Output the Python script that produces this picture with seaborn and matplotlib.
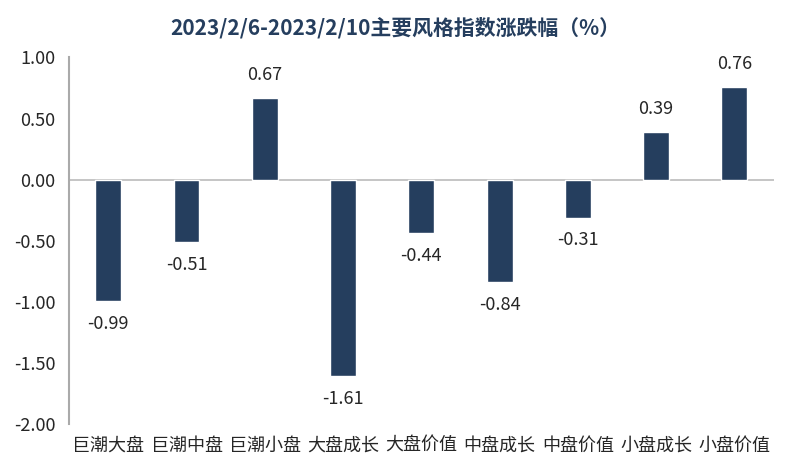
import matplotlib
matplotlib.use("Agg")
import matplotlib.pyplot as plt
import seaborn as sns
import pandas as pd

categories = ["巨潮大盘", "巨潮中盘", "巨潮小盘", "大盘成长", "大盘价值", "中盘成长", "中盘价值", "小盘成长", "小盘价值"]
values = [-0.99, -0.51, 0.67, -1.61, -0.44, -0.84, -0.31, 0.39, 0.76]
yticks = [-2.0, -1.5, -1.0, -0.5, 0.0, 0.5, 1.0]
title = "2023/2/6-2023/2/10主要风格指数涨跌幅（%）"

sns.set_theme(style="white")
plt.rcParams['font.family'] = ['Noto Sans CJK SC', 'DejaVu Sans']

df = pd.DataFrame({"cat": categories, "val": values})

fig = plt.figure(figsize=(7.95, 4.67), dpi=100)
ax = fig.add_axes([0.087, 0.092, 0.886, 0.785])
sns.barplot(data=df, x="cat", y="val", color="#253E5E", saturation=1, width=0.33, ax=ax)

ax.set_ylim(-2.0, 1.0)
ax.set_xlim(-0.5, len(categories) - 0.5)
ax.set_yticks(yticks)
ax.set_yticklabels([f"{t:.2f}" for t in yticks], fontsize=13)
ax.set_xlabel("")
ax.set_ylabel("")
ax.tick_params(axis='x', labelsize=13, length=0, pad=9)
ax.tick_params(axis='y', length=0, pad=10)
for s in ["top", "right", "bottom"]:
    ax.spines[s].set_visible(False)
ax.spines["left"].set_color("#AAAAAA")
ax.spines["left"].set_linewidth(1.5)
ax.axhline(0, color="#BBBBBB", linewidth=1.2, zorder=0.5)

for i, v in enumerate(values):
    if v >= 0:
        ax.annotate(f"{v:.2f}", (i, v), xytext=(0, 10), textcoords="offset points",
                    ha="center", va="bottom", fontsize=13)
    else:
        ax.annotate(f"{v:.2f}", (i, v), xytext=(0, -10), textcoords="offset points",
                    ha="center", va="top", fontsize=13)

fig.text(0.497, 0.941, title, ha="center", va="center", fontsize=15, fontweight="bold", color="#253E5E")

fig.savefig("out.png", dpi=100)
